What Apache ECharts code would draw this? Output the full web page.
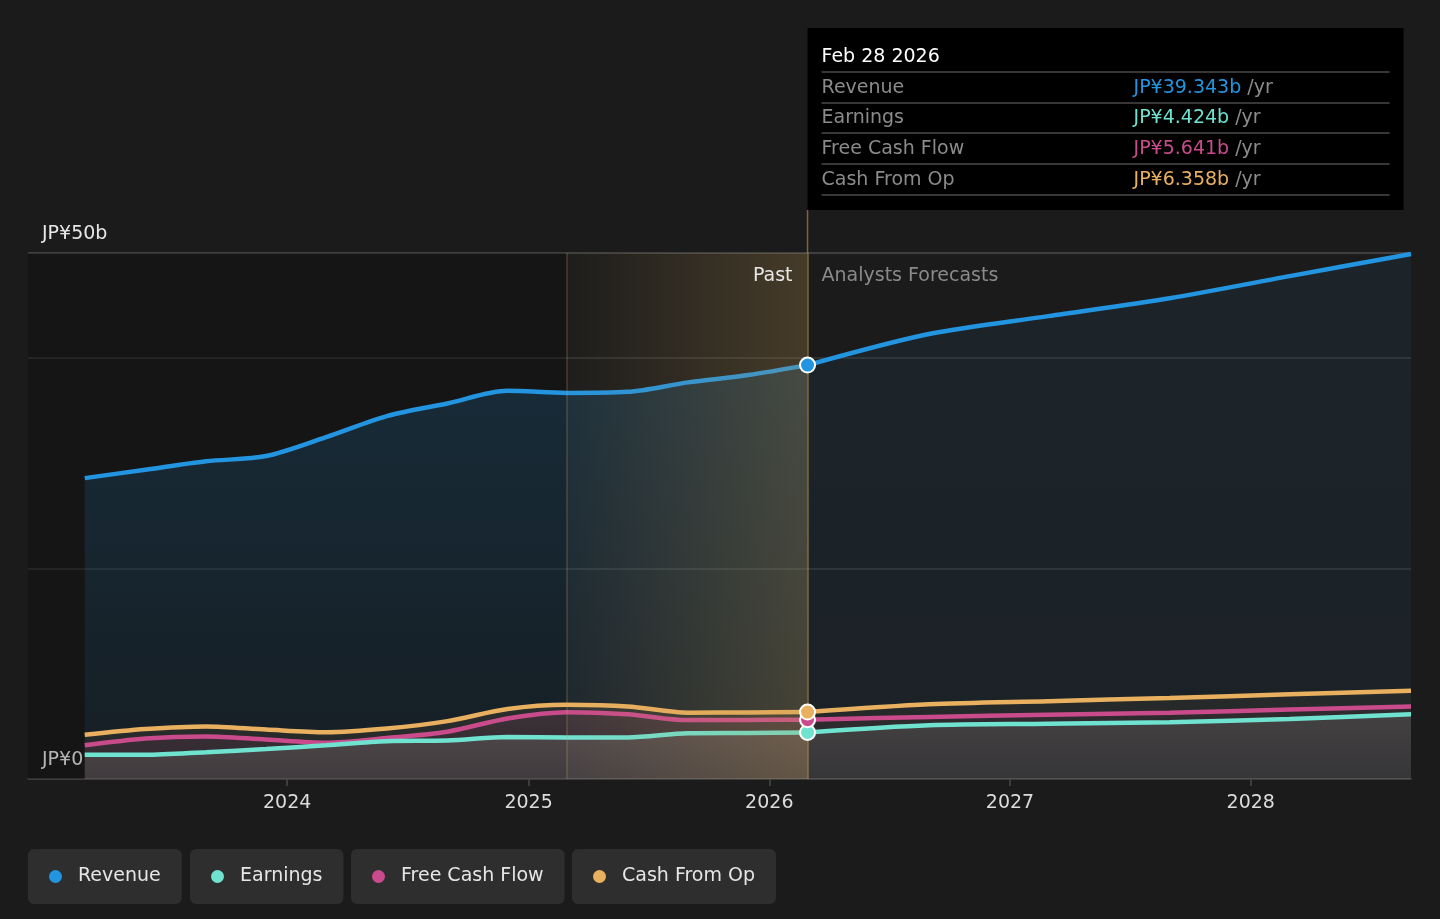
<!DOCTYPE html>
<html>
<head>
<meta charset="utf-8">
<script src="https://cdn.jsdelivr.net/npm/echarts@6/dist/echarts.min.js"></script>
<style>
html,body{margin:0;padding:0;background:#1b1b1b;}
#c{width:1440px;height:919px;}
</style>
</head>
<body>
<div id="c"></div>
<script>
// ---------- data ----------
const seriesNames = ['Revenue', 'Earnings', 'Free Cash Flow', 'Cash From Op'];
const pastDates = ['2023-02-28','2023-05-31','2023-08-31','2023-11-30','2024-02-29','2024-05-31','2024-08-31','2024-11-30','2025-02-28','2025-05-31','2025-08-31','2025-11-30','2026-02-28'];
const revenuePast  = [28.6, 29.4, 30.2, 30.7, 32.5, 34.5, 35.7, 36.9, 36.7, 36.8, 37.7, 38.4, 39.343];
const earningsPast = [2.3, 2.3, 2.55, 2.85, 3.2, 3.6, 3.65, 4.0, 3.95, 3.95, 4.35, 4.38, 4.424];
const fcfPast      = [3.2, 3.85, 4.05, 3.75, 3.45, 3.9, 4.5, 5.75, 6.35, 6.15, 5.6, 5.62, 5.641];
const cfoPast      = [4.2, 4.75, 5.0, 4.7, 4.45, 4.8, 5.5, 6.65, 7.05, 6.9, 6.3, 6.33, 6.358];
const forecastDates = ['2026-02-28','2026-08-31','2027-02-28','2027-08-31','2028-02-29','2028-08-31'];
const revenueFc  = [39.343, 42.3, 44.0, 45.7, 47.8, 49.9];
const earningsFc = [4.424, 5.1, 5.25, 5.4, 5.7, 6.15];
const fcfFc      = [5.641, 5.9, 6.1, 6.3, 6.6, 6.9];
const cfoFc      = [6.358, 7.1, 7.4, 7.7, 8.05, 8.4];
const xTickYears = [2024, 2025, 2026, 2027, 2028];
const yTickLabels = {0: 'JP¥0', 50: 'JP¥50b'};
const axisMinDate = '2022-12-04';
const axisMaxDate = '2028-08-31';
const highlightStart = '2025-02-28';
const splitDate = '2026-02-28';
const tooltipTitle = 'Feb 28 2026';
const pastLabel = 'Past';
const forecastLabel = 'Analysts Forecasts';

// ---------- helpers ----------
const ts = d => { const p = d.split('-').map(Number); return Date.UTC(p[0], p[1]-1, p[2]); };
const pairs = (dates, vals) => dates.map((d, i) => [ts(d), vals[i]]);
const colors = ['#2394df', '#6fe2d0', '#c94b8c', '#e9b05f'];
const areaColors = ['#2394df', '#c8c8b9', '#c94b8c', '#e9b05f'];
const rgba = (hex, a) => {
  const n = parseInt(hex.slice(1), 16);
  return `rgba(${(n>>16)&255},${(n>>8)&255},${n&255},${a})`;
};
const vgrad = (hex, a0, a1) => new echarts.graphic.LinearGradient(0, 0, 0, 1, [
  {offset: 0, color: rgba(hex, a0)}, {offset: 1, color: rgba(hex, a1)}]);
const FONT = 'DejaVu Sans';

const pastVals = [revenuePast, earningsPast, fcfPast, cfoPast];
const fcVals = [revenueFc, earningsFc, fcfFc, cfoFc];
const pastAlpha = [[0.25, 0.10], [0.22, 0.16], [0.16, 0.10], [0.14, 0.08]];
const fcAlpha = [[0.11, 0.08], [0.20, 0.12], [0.08, 0.05], [0.08, 0.05]];
// draw order: Revenue, Cash From Op, Free Cash Flow, Earnings
const drawOrder = [0, 3, 2, 1];
const tickValues = xTickYears.map(y => Date.UTC(y, 0, 1));

function lineSeries(i, data, alphas) {
  return {
    name: seriesNames[i], type: 'line', data: data, z: 2,
    smooth: 0.3, showSymbol: false, symbol: 'none', silent: true,
    lineStyle: {color: colors[i], width: 4.5},
    itemStyle: {color: colors[i]},
    areaStyle: {color: vgrad(areaColors[i], alphas[0], alphas[1]), origin: 'start'},
    emphasis: {disabled: true}
  };
}

const series = [];
// darker past background
series.push({
  name: 'bgPast', type: 'line', data: [[ts(splitDate), 0]], symbol: 'none', silent: true,
  lineStyle: {width: 0, opacity: 0}, z: 1,
  markArea: {silent: true, z: 1, itemStyle: {color: 'rgba(0,0,0,0.22)'},
    data: [[{xAxis: ts(axisMinDate)}, {xAxis: ts(highlightStart)}]]}
});
drawOrder.forEach(i => {
  series.push(lineSeries(i, pairs(pastDates, pastVals[i]), pastAlpha[i]));
  series.push(lineSeries(i, pairs(forecastDates, fcVals[i]), fcAlpha[i]));
});
// highlight overlay and vertical lines
series.push({
  name: 'highlight', type: 'line', data: [[ts(splitDate), 0]], symbol: 'none', silent: true,
  lineStyle: {width: 0, opacity: 0}, z: 3,
  markArea: {silent: true, z: 3,
    itemStyle: {color: new echarts.graphic.LinearGradient(0, 0, 1, 0, [
      {offset: 0, color: 'rgba(190,150,80,0.02)'}, {offset: 1, color: 'rgba(190,150,80,0.26)'}])},
    data: [[{xAxis: ts(highlightStart)}, {xAxis: ts(splitDate)}]]},
  markLine: {silent: true, z: 3, symbol: 'none', label: {show: false},
    data: [
      {xAxis: ts(highlightStart), lineStyle: {color: 'rgba(200,170,110,0.25)', width: 1.5, type: 'solid'}},
      {xAxis: ts(splitDate), lineStyle: {color: 'rgba(200,160,90,0.55)', width: 1.5, type: 'solid'}}
    ]}
});
// markers at the split date: revenue, earnings, fcf, cfo
[0, 1, 2, 3].forEach(i => {
  series.push({
    name: 'marker' + i, type: 'scatter', z: 4, silent: true,
    data: [[ts(splitDate), pastVals[i][pastVals[i].length - 1]]],
    symbolSize: 15,
    itemStyle: {color: colors[i], borderColor: '#ffffff', borderWidth: 2, opacity: 1}
  });
});

const legendLefts = [28, 190, 351, 572];
const legends = seriesNames.map((n, i) => ({
  data: [n], left: legendLefts[i], top: 849, orient: 'horizontal',
  backgroundColor: '#2e2e2e', borderRadius: 6, padding: [18, 21, 18, 21],
  icon: 'circle', itemWidth: 13, itemHeight: 13, selectedMode: false,
  textStyle: {color: '#e6e6e6', fontSize: 19, fontFamily: FONT, lineHeight: 19, padding: [0, 0, 0, 11]}
}));

const option = {
  backgroundColor: '#1b1b1b',
  animation: false,
  textStyle: {fontFamily: FONT},
  grid: {left: 28, right: 29, top: 253, bottom: 140, containLabel: false},
  legend: legends,
  xAxis: {
    type: 'value', min: ts(axisMinDate), max: ts(axisMaxDate), scale: true,
    splitLine: {show: false},
    axisLine: {show: true, lineStyle: {color: '#4a4a4a', width: 1.5}},
    axisTick: {show: true, length: 7, customValues: tickValues, lineStyle: {color: '#4a4a4a', width: 1.5}},
    axisLabel: {color: '#dcdcdc', fontSize: 19, fontFamily: FONT, margin: 14, lineHeight: 20,
      customValues: tickValues, showMinLabel: true, showMaxLabel: true,
      formatter: v => String(new Date(v).getUTCFullYear())}
  },
  yAxis: {
    type: 'value', min: 0, max: 50, interval: 10,
    axisLine: {show: false}, axisTick: {show: false},
    axisLabel: {inside: true, margin: 14, color: '#e6e6e6', fontSize: 19, fontFamily: FONT,
      verticalAlign: 'bottom', lineHeight: 19, padding: [0, 0, 9, 0],
      formatter: v => (yTickLabels[v] !== undefined ? yTickLabels[v] : '')},
    splitLine: {show: true, lineStyle: {width: 1.5, color: [
      'rgba(0,0,0,0)', 'rgba(0,0,0,0)', 'rgba(255,255,255,0.12)',
      'rgba(0,0,0,0)', 'rgba(255,255,255,0.12)', 'rgba(255,255,255,0.22)']}}
  },
  series: series
};

const chart = echarts.init(document.getElementById('c'), null, {renderer: 'canvas'});
chart.setOption(option);

// ---------- annotations ----------
const pTop = chart.convertToPixel({gridIndex: 0}, [ts(splitDate), 50]);
const sx = pTop[0], topY = pTop[1];
const tipX = sx, tipY = 28, tipW = 596, tipH = 182;
const font = '19px "' + FONT + '"';
const rowYs = [88, 118, 149, 180];
const sepYs = [72, 103, 133, 164, 195];
const graphics = [
  {type: 'line', silent: true, z: 10, shape: {x1: sx, y1: tipY + tipH, x2: sx, y2: topY},
    style: {stroke: 'rgba(200,160,90,0.55)', lineWidth: 1.5}},
  {type: 'rect', silent: true, z: 10, shape: {x: tipX, y: tipY, width: tipW, height: tipH}, style: {fill: '#000000'}},
  {type: 'text', silent: true, z: 11, x: tipX + 14, y: 57,
    style: {text: tooltipTitle, fill: '#ffffff', font: font, align: 'left', verticalAlign: 'middle'}},
  {type: 'text', silent: true, z: 11, x: sx - 15, y: topY + 23,
    style: {text: pastLabel, fill: '#e6e6e6', font: font, align: 'right', verticalAlign: 'middle'}},
  {type: 'text', silent: true, z: 11, x: sx + 14, y: topY + 23,
    style: {text: forecastLabel, fill: '#8a8a8a', font: font, align: 'left', verticalAlign: 'middle'}}
];
sepYs.forEach(y => graphics.push({type: 'line', silent: true, z: 11,
  shape: {x1: tipX + 14, y1: y, x2: tipX + tipW - 14, y2: y},
  style: {stroke: '#4a4a4a', lineWidth: 1.5}}));
seriesNames.forEach((n, i) => {
  const v = pastVals[i][pastVals[i].length - 1];
  graphics.push({type: 'text', silent: true, z: 11, x: tipX + 14, y: rowYs[i],
    style: {text: n, fill: '#8b8b8b', font: font, align: 'left', verticalAlign: 'middle'}});
  graphics.push({type: 'text', silent: true, z: 11, x: tipX + 326, y: rowYs[i],
    style: {text: '{v|JP¥' + v.toFixed(3) + 'b}{u| /yr}', font: font, align: 'left', verticalAlign: 'middle',
      rich: {v: {fill: colors[i], font: font}, u: {fill: '#8b8b8b', font: font}}}});
});
chart.setOption({graphic: graphics});
</script>
</body>
</html>
